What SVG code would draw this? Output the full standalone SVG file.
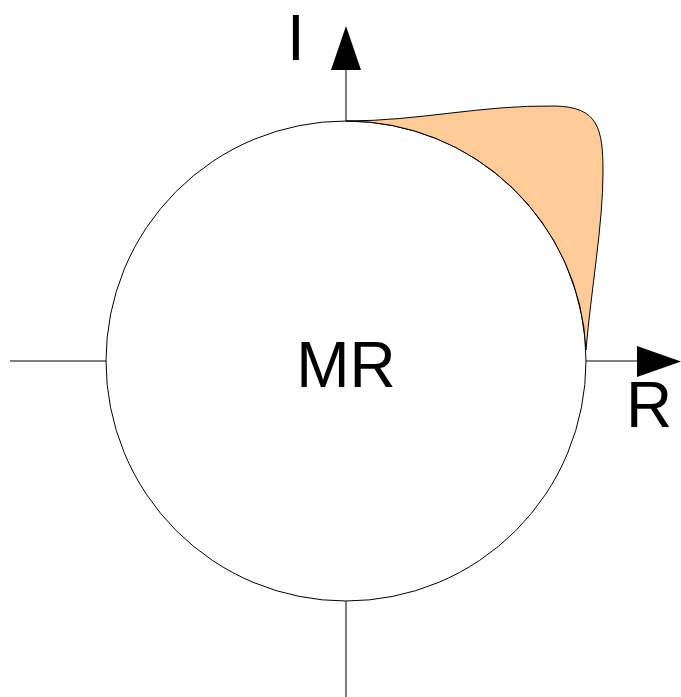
<svg xmlns="http://www.w3.org/2000/svg" width="681" height="697" viewBox="0 0 681 697">
<style>
.ax{stroke:#000;stroke-width:1;fill:none}
.lbl{font-family:"Liberation Sans",Arial,sans-serif;font-size:64px;fill:#000;text-anchor:middle}
</style>
<rect width="681" height="697" fill="#fff"/>
<g id="connectors">
<line class="ax" x1="10" y1="361" x2="106" y2="361"/>
<line class="ax" x1="586" y1="361" x2="640" y2="361"/>
<polygon points="637,346 681,361.5 637,377" fill="#000"/>
<line class="ax" x1="346" y1="121" x2="346" y2="70"/>
<line class="ax" x1="346" y1="601" x2="346" y2="697"/>
<polygon points="331,70 346,26 361,70" fill="#000"/>
</g>
<g id="MR">
<circle cx="346" cy="361" r="240" fill="#fff" stroke="#000" stroke-width="1"/>
<text class="lbl" x="346" y="387">MR</text>
</g>
<g id="region">
<path d="M346,121 C420,121 480,105 555,106 C598,107 603,128 603,172 C603,225 591,290 586,350 A240,240 0 0 0 346,121 Z" fill="#FFCC99" stroke="#000" stroke-width="1"/>
</g>
<g id="labels">
<text class="lbl" x="296" y="60">I</text>
<text class="lbl" x="649" y="427">R</text>
</g>
</svg>
